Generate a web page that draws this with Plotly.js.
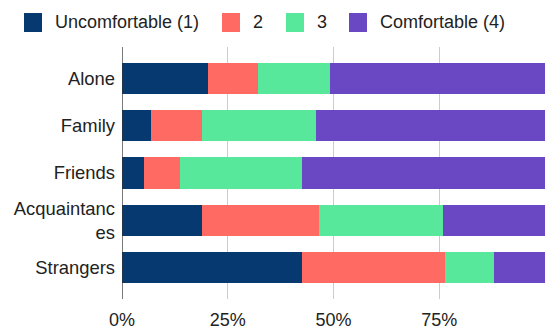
<!DOCTYPE html>
<html><head><meta charset="utf-8">
<script src="https://cdn.plot.ly/plotly-3.0.1.min.js"></script>
<style>body{margin:0;padding:0;background:#fff}#chart{width:545px;height:329px}</style>
</head><body><div id="chart"></div>
<script>
const categories = ["Alone", "Family", "Friends", "Acquaintances", "Strangers"];
const categoryLabels = ["Alone", "Family", "Friends", "Acquaintanc<br>es", "Strangers"];
const seriesNames = ["Uncomfortable (1)", "2", "3", "Comfortable (4)"];
const uncomfortable = [20.4, 6.8, 5.3, 18.9, 42.5];
const level2 = [11.7, 12.1, 8.5, 27.6, 33.8];
const level3 = [17.0, 26.9, 28.7, 29.4, 11.7];
const comfortable = [50.9, 54.2, 57.5, 24.1, 12.0];
const tickVals = [0, 25, 50, 75];
const tickLabels = ["0%", "25%", "50%", "75%"];
const colors = ["#063970", "#ff6b63", "#57e89c", "#6a48c4"];

const seriesValues = [uncomfortable, level2, level3, comfortable];
const traces = seriesValues.map((vals, i) => ({
  type: "bar", orientation: "h", name: seriesNames[i],
  y: categories, x: vals,
  marker: {color: colors[i], line: {width: 0}},
  showlegend: false, hoverinfo: "x+name"
}));

const FONT = "Liberation Sans, Arial, sans-serif";
// custom legend (swatch + label)
const legendX = [24, 222, 286, 349];
const shapes = [];
const annotations = [];
seriesNames.forEach((n, i) => {
  shapes.push({type: "rect", xref: "paper", yref: "paper",
    x0: (legendX[i] - 122) / 423, x1: (legendX[i] + 18 - 122) / 423,
    y0: (329 - 30 - 32) / 252, y1: (329 - 30 - 13) / 252,
    fillcolor: colors[i], line: {width: 0}, layer: "above"});
  annotations.push({xref: "paper", yref: "paper", x: (legendX[i] + 29 - 122) / 423,
    y: (329 - 30 - 22.5) / 252, xanchor: "left", yanchor: "middle", showarrow: false,
    text: n, font: {family: FONT, size: 18, color: "#222"}});
});
shapes.push({type: "line", xref: "x", yref: "paper", x0: 0, x1: 0, y0: 0, y1: 1,
  line: {color: "#333", width: 1.3}, layer: "above"});

const layout = {
  width: 545, height: 329, barmode: "stack", bargap: 0.345,
  margin: {l: 122, r: 0, t: 47, b: 30},
  paper_bgcolor: "#fff", plot_bgcolor: "#fff",
  font: {family: FONT, size: 18, color: "#222"},
  xaxis: {range: [0, 100], tickvals: tickVals, ticktext: tickLabels,
    showgrid: true, gridcolor: "#cccccc", gridwidth: 1, zeroline: false,
    showline: false, ticks: "", ticklabelstandoff: 8, tickfont: {size: 18, color: "#222"}, fixedrange: true},
  yaxis: {type: "category", range: [4.655, -0.655], tickvals: categories, ticktext: categoryLabels,
    showgrid: false, zeroline: false, showline: false, ticks: "", ticklabelstandoff: 6,
    tickfont: {size: 18.4, color: "#222"}, fixedrange: true},
  shapes: shapes, annotations: annotations, showlegend: false
};
Plotly.newPlot("chart", traces, layout, {displayModeBar: false, staticPlot: true});
</script></body></html>
